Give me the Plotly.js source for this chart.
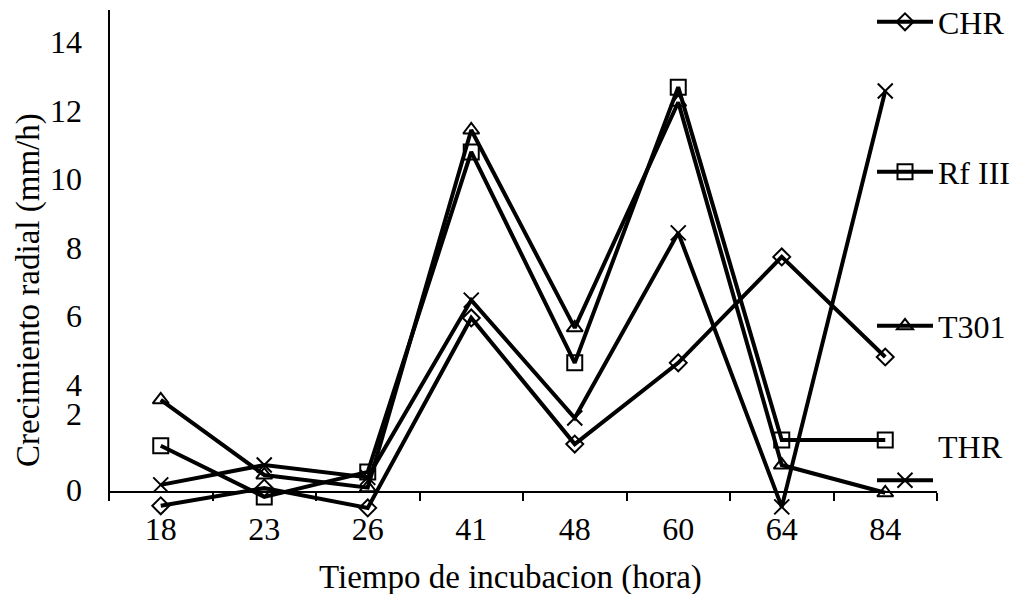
<!DOCTYPE html>
<html><head><meta charset="utf-8">
<script src="https://cdn.plot.ly/plotly-3.0.1.min.js"></script>
<style>html,body{margin:0;padding:0;background:#fff}#chart{width:1013px;height:594px}</style>
</head><body><div id="chart"></div>
<script>
// Data
const categories = ['18', '23', '26', '41', '48', '60', '64', '84'];
const chr  = [0.47, 0.99, 0.41, 5.95, 2.27, 4.64, 7.73, 4.81];
const rf3  = [2.22, 0.73, 1.46, 10.79, 4.64, 12.68, 2.39, 2.39];
const t301 = [3.56, 1.37, 1.00, 11.43, 5.66, 12.24, 1.66, 0.85];
const thr  = [1.08, 1.66, 1.30, 6.47, 3.03, 8.43, 0.44, 12.57];
const seriesNames = ['CHR', 'Rf III', 'T301', 'THR'];
const yTickVals = [0.93, 3.15, 4, 6, 8, 10, 12, 14];
const yTickText = ['0', '2', '4', '6', '8', '10', '12', '14'];
const xTitle = 'Tiempo de incubacion (hora)';
const yTitle = 'Crecimiento radial (mm/h)';

const FONT = 'Liberation Serif, Times New Roman, serif';
const yRange = [0.29, 14.93];
const xCross = 0.875;
const crossPos = (xCross - yRange[0]) / (yRange[1] - yRange[0]);

const symbols = ['diamond-open', 'square-open', 'triangle-up-open', 'x-thin-open'];
const sizes = [13, 15, 14, 15];
const values = [chr, rf3, t301, thr];
const legendIds = ['legend', 'legend2', 'legend3', 'legend4'];

const traces = values.map((v, i) => ({
  type: 'scatter',
  mode: 'lines+markers',
  x: categories,
  y: v,
  name: i === 3 ? "<span style='font-size:32px'>" + seriesNames[i] + "</span><br> " : seriesNames[i],
  legend: legendIds[i],
  cliponaxis: false,
  line: {color: '#000', width: 4},
  marker: {symbol: symbols[i], size: sizes[i], color: '#000', line: {color: '#000', width: 2}}
}));

function pyPaper(px) { return (512 - px) / 502; }
function pxPaper(px) { return (px - 109) / 828; }
const lx = pxPaper(872);
function leg(px, extra) {
  return Object.assign({
    x: lx, xanchor: 'left', y: pyPaper(px), yanchor: 'middle',
    bgcolor: 'rgba(0,0,0,0)', borderwidth: 0, itemwidth: 56,
    font: {family: FONT, size: 32, color: '#000'}
  }, extra || {});
}

const layout = {
  width: 1013, height: 594,
  margin: {l: 109, r: 76, t: 10, b: 82, autoexpand: false},
  paper_bgcolor: '#fff', plot_bgcolor: '#fff',
  showlegend: true,
  font: {family: FONT, color: '#000'},
  xaxis: {
    type: 'category', categoryorder: 'array', categoryarray: categories,
    range: [-0.5, 7.5], anchor: 'free', position: crossPos,
    showline: true, linecolor: '#000', linewidth: 2,
    ticks: 'outside', tickson: 'boundaries', ticklen: 8, tickwidth: 2, tickcolor: '#000',
    showgrid: false, zeroline: false, automargin: false,
    tickfont: {family: FONT, size: 32, color: '#000'},
    ticklabelstandoff: 9
  },
  yaxis: {
    range: yRange, tickmode: 'array', tickvals: yTickVals, ticktext: yTickText,
    ticks: '', showline: false, showgrid: false, zeroline: false, automargin: false,
    tickfont: {family: FONT, size: 32, color: '#000'},
    ticklabelstandoff: 26
  },
  annotations: [
    {text: xTitle, xref: 'paper', yref: 'paper', x: pxPaper(510), y: pyPaper(578),
     xanchor: 'center', yanchor: 'middle', showarrow: false,
     font: {family: FONT, size: 33, color: '#000'}},
    {text: yTitle, xref: 'paper', yref: 'paper', x: pxPaper(28), y: pyPaper(290),
     xanchor: 'center', yanchor: 'middle', showarrow: false, textangle: -90,
     font: {family: FONT, size: 33, color: '#000'}}
  ],
  shapes: [{type: 'line', xref: 'paper', yref: 'y', x0: 0, x1: 0, y0: 0.70, y1: yRange[1],
            line: {color: '#000', width: 2}}],
  legend: leg(22),
  legend2: leg(172),
  legend3: leg(326),
  legend4: leg(465, {valign: 'bottom', font: {family: FONT, size: 24, color: '#000'}})
};

Plotly.newPlot('chart', traces, layout, {displayModeBar: false, staticPlot: true});
</script></body></html>
